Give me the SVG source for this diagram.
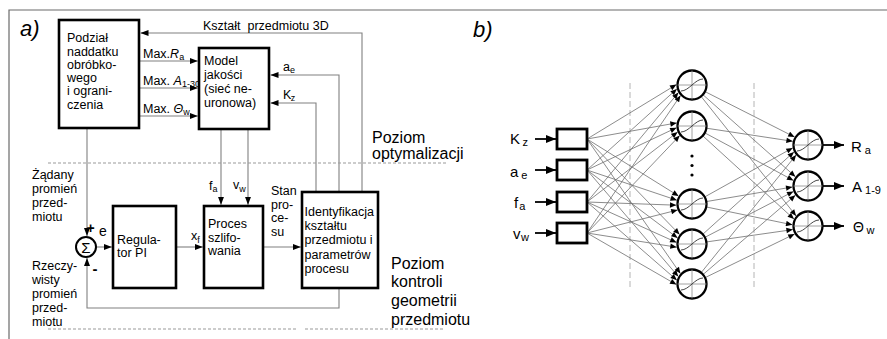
<svg xmlns="http://www.w3.org/2000/svg" width="887" height="339" viewBox="0 0 887 339">
<style>
text{font-family:"Liberation Sans",Arial,Helvetica,sans-serif;fill:#000}
.t{font-size:12.5px}
.big{font-size:16px}
.lab{font-size:22px;font-style:italic}
.sub{font-size:9px}
.io{font-size:15px}
.ios{font-size:11px}
.box{fill:#fff;stroke:#000;stroke-width:2.6}
.ibox{fill:#fff;stroke:#000;stroke-width:2.8}
.c{fill:none;stroke:#808080;stroke-width:1.1}
.cb{fill:none;stroke:#000;stroke-width:1.8}
.nc{fill:none;stroke:#6e6e6e;stroke-width:0.8}
.dash{fill:none;stroke:#9a9a9a;stroke-width:1.2;stroke-dasharray:3 2}
.vd{fill:none;stroke:#b4b4b4;stroke-width:1;stroke-dasharray:6 3}
.frame{fill:none;stroke:#6a6a6a;stroke-width:1.2}
</style>
<defs>
<marker id="arr" viewBox="0 0 8 6" refX="8" refY="3" markerWidth="8" markerHeight="6" markerUnits="userSpaceOnUse" orient="auto"><path d="M0,0L8,3L0,6z" fill="#000"/></marker>
<marker id="arrb" viewBox="0 0 10 8" refX="10" refY="4" markerWidth="10" markerHeight="8" markerUnits="userSpaceOnUse" orient="auto"><path d="M0,0L10,4L0,8z" fill="#000"/></marker>
<marker id="na" viewBox="-7 -3 7 6" refX="0" refY="0" markerWidth="7" markerHeight="6" markerUnits="userSpaceOnUse" orient="auto"><path d="M0,0L-6.4,-2.7L-6.4,2.7z" fill="#000"/></marker>
<g id="neuron">
<circle r="14.5" fill="#fff" stroke="#000" stroke-width="2.3"/>
<path d="M-14.5,0H14.5M0,-14.5V14.5" stroke="#8a8a8a" stroke-width="0.8" fill="none"/>
<path d="M-11,6C-3,6 3,-6 11,-6" stroke="#333" stroke-width="0.9" fill="none"/>
</g>
</defs>

<path class="frame" d="M9,339V10H887"/>
<text class="lab" x="20" y="36">a)</text>
<text class="lab" x="473" y="37">b)</text>

<!-- (a) connectors -->
<g id="connectors-a">
<path class="c" d="M362,192V33H140.5" marker-end="url(#arr)"/>
<path class="c" d="M339,192V75H270.5" marker-end="url(#arr)"/>
<path class="c" d="M316,192V103H270.5" marker-end="url(#arr)"/>
<path class="c" d="M139,61H197.8" marker-end="url(#arr)"/>
<path class="c" d="M139,88H197.8" marker-end="url(#arr)"/>
<path class="c" d="M139,116H197.8" marker-end="url(#arr)"/>
<path class="c" d="M87,128V236" marker-end="url(#arr)"/>
<path class="c" d="M221,129V204.8" marker-end="url(#arr)"/>
<path class="c" d="M248,129V204.8" marker-end="url(#arr)"/>
<path class="c" d="M96,247H111.8" marker-end="url(#arr)"/>
<path class="c" d="M176,247H202.8" marker-end="url(#arr)"/>
<path class="c" d="M263,247H300.8" marker-end="url(#arr)"/>
<path class="c" d="M339,288V308H87V258" marker-end="url(#arr)"/>
</g>

<g id="levels">
<path class="dash" d="M48,163H446"/>
<path class="dash" d="M48,329H298M305,329H443"/>
<text class="big" x="372" y="143">Poziom</text>
<text class="big" x="372" y="159">optymalizacji</text>
<text class="big" x="391" y="268.5">Poziom</text>
<text class="big" x="391" y="287.3">kontroli</text>
<text class="big" x="391" y="306">geometrii</text>
<text class="big" x="391" y="325">przedmiotu</text>
</g>

<g id="connector-labels-a">
<text class="t" x="203" y="29.5" xml:space="preserve">Kształt  przedmiotu 3D</text>
<text class="t" x="143" y="57.5">Max.<tspan font-style="italic">R</tspan><tspan class="sub" dy="2">a</tspan></text>
<text class="t" x="143" y="85">Max. <tspan font-style="italic">A</tspan><tspan class="sub" dy="2">1-300</tspan></text>
<text class="t" x="143" y="113">Max. <tspan font-style="italic">Θ</tspan><tspan class="sub" dy="2">w</tspan></text>
<text class="t" x="283" y="70.5">a<tspan class="sub" dy="2.5">e</tspan></text>
<text class="t" x="283" y="98.5">K<tspan class="sub" dx="-0.5" dy="2">z</tspan></text>
<text class="t" x="209" y="189.5">f<tspan class="sub" dy="2.5">a</tspan></text>
<text class="t" x="233" y="189">v<tspan class="sub" dy="2.5">w</tspan></text>
<text class="t" x="271" y="195">Stan</text>
<text class="t" x="271" y="208.5">pro-</text>
<text class="t" x="271" y="222">ce-</text>
<text class="t" x="271" y="236">su</text>
<text style="font-size:14px" x="99" y="236">e</text>
<text class="t" x="191" y="240">x<tspan class="sub" dy="2.5">f</tspan></text>
<text style="font-size:14px;font-weight:bold" x="86.6" y="233">+</text>
<text style="font-size:15px;font-weight:bold" x="92.5" y="274">-</text>
<text class="t" x="32" y="179">Żądany</text>
<text class="t" x="32" y="192.7">promień</text>
<text class="t" x="32" y="206.5">przed-</text>
<text class="t" x="32" y="220.5">miotu</text>
<text class="t" x="32" y="270">Rzeczy-</text>
<text class="t" x="32" y="284">wisty</text>
<text class="t" x="32" y="297.8">promień</text>
<text class="t" x="32" y="311.7">przed-</text>
<text class="t" x="32" y="325.5">miotu</text>
</g>

<g id="node-podzial">
<rect class="box" x="59" y="20" width="80" height="108"/>
<text class="t" x="67" y="42">Podział</text>
<text class="t" x="67" y="55.5">naddatku</text>
<text class="t" x="67" y="68.8">obróbko-</text>
<text class="t" x="67" y="82">wego</text>
<text class="t" x="67" y="95.3">i ograni-</text>
<text class="t" x="67" y="108.8">czenia</text>
</g>
<g id="node-model">
<rect class="box" x="199" y="48" width="70" height="81"/>
<text class="t" x="204" y="65">Model</text>
<text class="t" x="204" y="79">jakości</text>
<text class="t" x="204" y="93">(sieć ne-</text>
<text class="t" x="204" y="107">uronowa)</text>
</g>
<g id="node-sum">
<circle cx="86" cy="247" r="10" fill="#fff" stroke="#000" stroke-width="2"/>
<text x="86" y="252.5" text-anchor="middle" style="font-size:15px">Σ</text>
</g>
<g id="node-regulator">
<rect class="box" x="113" y="206" width="63" height="82"/>
<text class="t" x="117" y="244">Regula-</text>
<text class="t" x="117" y="257">tor PI</text>
</g>
<g id="node-proces">
<rect class="box" x="204" y="206" width="59" height="82"/>
<text class="t" x="208" y="228">Proces</text>
<text class="t" x="208" y="241.5">szlifo-</text>
<text class="t" x="208" y="255">wania</text>
</g>
<g id="node-ident">
<rect class="box" x="302" y="192" width="76" height="96"/>
<text class="t" x="304.5" y="216">Identyfikacja</text>
<text class="t" x="304.5" y="230">kształtu</text>
<text class="t" x="304.5" y="244">przedmiotu i</text>
<text class="t" x="304.5" y="258.5">parametrów</text>
<text class="t" x="304.5" y="273">procesu</text>
</g>

<!-- (b) -->
<g id="layers-b">
<path class="vd" d="M630,83V288M754,83V288"/>
</g>
<g id="connectors-b">
<g class="nc" marker-end="url(#na)">
<line x1="587" y1="139" x2="676.4" y2="84.6"/><line x1="587" y1="139" x2="676.7" y2="122.9"/><line x1="587" y1="139" x2="678.6" y2="196"/><line x1="587" y1="139" x2="679.6" y2="234.5"/><line x1="587" y1="139" x2="680.4" y2="273.6"/>
<line x1="587" y1="170" x2="676.9" y2="88.9"/><line x1="587" y1="170" x2="676.5" y2="127.7"/><line x1="587" y1="170" x2="676.9" y2="200.2"/><line x1="587" y1="170" x2="677.6" y2="238"/><line x1="587" y1="170" x2="678.3" y2="276.5"/>
<line x1="587" y1="202" x2="678.4" y2="92.6"/><line x1="587" y1="202" x2="677.6" y2="132.1"/><line x1="587" y1="202" x2="676.4" y2="205.2"/><line x1="587" y1="202" x2="676.5" y2="242.4"/><line x1="587" y1="202" x2="676.9" y2="280.2"/>
<line x1="587" y1="233" x2="680.5" y2="95.5"/><line x1="587" y1="233" x2="679.7" y2="135.6"/><line x1="587" y1="233" x2="677.6" y2="210"/><line x1="587" y1="233" x2="676.7" y2="247.2"/><line x1="587" y1="233" x2="676.4" y2="284.6"/>
<line x1="692" y1="85" x2="794.6" y2="137"/><line x1="692" y1="85" x2="795.4" y2="176.7"/><line x1="692" y1="85" x2="796.1" y2="215.9"/>
<line x1="692" y1="126" x2="792.8" y2="141.3"/><line x1="692" y1="126" x2="793.4" y2="180.4"/><line x1="692" y1="126" x2="794" y2="219.1"/>
<line x1="692" y1="204" x2="792.7" y2="147.9"/><line x1="692" y1="204" x2="792.4" y2="187"/><line x1="692" y1="204" x2="792.4" y2="224.8"/>
<line x1="692" y1="244" x2="794" y2="151.9"/><line x1="692" y1="244" x2="793.4" y2="191.5"/><line x1="692" y1="244" x2="792.8" y2="229.6"/>
<line x1="692" y1="284" x2="796.1" y2="155"/><line x1="692" y1="284" x2="795.4" y2="195.2"/><line x1="692" y1="284" x2="794.6" y2="234"/>
</g>
<g class="cb" marker-end="url(#arrb)">
<line x1="535" y1="139" x2="556" y2="139"/>
<line x1="535" y1="170" x2="556" y2="170"/>
<line x1="535" y1="202" x2="556" y2="202"/>
<line x1="535" y1="233" x2="556" y2="233"/>
<line x1="823" y1="145" x2="844" y2="145"/>
<line x1="823" y1="186" x2="844" y2="186"/>
<line x1="823" y1="226" x2="844" y2="226"/>
</g>
</g>

<g id="in-kz"><rect class="ibox" x="557" y="129" width="30" height="20"/><text class="io" x="510" y="144">K<tspan class="ios" dx="2.5" dy="2">z</tspan></text></g>
<g id="in-ae"><rect class="ibox" x="557" y="160" width="30" height="20"/><text class="io" x="510" y="177">a<tspan class="ios" dx="3" dy="2">e</tspan></text></g>
<g id="in-fa"><rect class="ibox" x="557" y="192" width="30" height="20"/><text class="io" x="514" y="208">f<tspan class="ios" dx="1" dy="1.5">a</tspan></text></g>
<g id="in-vw"><rect class="ibox" x="557" y="223" width="30" height="20"/><text class="io" x="513" y="238.5">v<tspan class="ios" dx="0.5" dy="2.5">w</tspan></text></g>

<g id="h1"><use href="#neuron" x="692" y="85"/></g>
<g id="h2"><use href="#neuron" x="692" y="126"/></g>
<g id="h-dots"><circle cx="692" cy="156" r="1.6"/><circle cx="692" cy="165.5" r="1.6"/><circle cx="692" cy="175" r="1.6"/></g>
<g id="h3"><use href="#neuron" x="692" y="204"/></g>
<g id="h4"><use href="#neuron" x="692" y="244"/></g>
<g id="h5"><use href="#neuron" x="692" y="284"/></g>

<g id="out-ra"><use href="#neuron" x="808" y="145"/><text class="io" x="851" y="152">R<tspan class="ios" dx="3" dy="2">a</tspan></text></g>
<g id="out-a"><use href="#neuron" x="808" y="186"/><text class="io" x="852" y="192">A<tspan class="ios" dx="3" dy="1.5">1-9</tspan></text></g>
<g id="out-theta"><use href="#neuron" x="808" y="226"/><text style="font-size:14px" x="853" y="232">Θ<tspan class="ios" dx="2.5" dy="2">w</tspan></text></g>
</svg>
